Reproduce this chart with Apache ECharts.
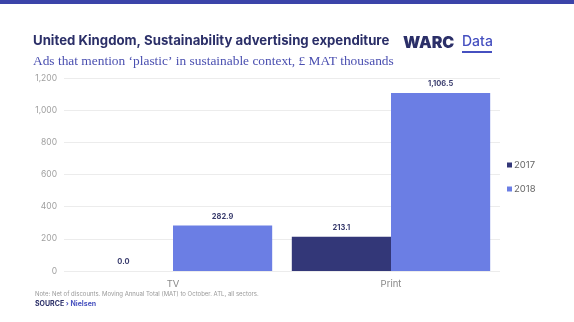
<!DOCTYPE html>
<html><head><meta charset="utf-8">
<script src="https://cdn.jsdelivr.net/npm/echarts@6/dist/echarts.min.js"></script>
<style>html,body{margin:0;padding:0;background:#fff}#c{width:574px;height:322px}</style>
</head><body><div id="c"></div>
<script>
const categories = ['TV', 'Print'];
const seriesNames = ['2017', '2018'];
const values2017 = [0.0, 213.1];
const values2018 = [282.9, 1106.5];
const yTicks = [0, 200, 400, 600, 800, 1000, 1200];

const chart = echarts.init(document.getElementById('c'));
const lbl = {
  show: true, position: 'top', distance: 5,
  color: '#3a3d6e', fontSize: 7.5, fontWeight: 'bold', fontFamily: 'Inter',
  formatter: p => p.value.toLocaleString('en-US', {minimumFractionDigits: 1, maximumFractionDigits: 1})
};
chart.setOption({
  animation: false,
  title: [
    {text: 'United Kingdom, Sustainability advertising expenditure', left: 28, top: 30,
     textStyle: {fontFamily: 'Inter', fontWeight: 'bold', fontSize: 13.2, color: '#2b2f68'}},
    {text: 'Ads that mention ‘plastic’ in sustainable context, £ MAT thousands', left: 28, top: 50,
     textStyle: {fontFamily: 'Liberation Serif', fontWeight: 'normal', fontSize: 13.4, color: '#4a4fb0'}},
    {text: 'Note: Net of discounts. Moving Annual Total (MAT) to October. ATL, all sectors.', left: 30, top: 286,
     textStyle: {fontFamily: 'Inter', fontWeight: 'normal', fontSize: 6, color: '#999'}},
    {text: '{a|SOURCE}{b| › Nielsen}', left: 30, top: 295,
     textStyle: {rich: {a: {fontFamily: 'Inter', fontWeight: 'bold', fontSize: 7, color: '#2b2f68'},
                        b: {fontFamily: 'Inter', fontWeight: 'bold', fontSize: 7, color: '#4a54c0'}}}}
  ],
  graphic: [
    {type: 'rect', left: 0, top: 0, shape: {width: 574, height: 4}, style: {fill: '#3b44a9'}},
    {type: 'text', left: 403, top: 35, style: {text: 'WARC', font: '900 16px Inter', fill: '#2b2f68'}},
    {type: 'text', left: 462, top: 35, style: {text: 'Data', font: '500 14px Inter', fill: '#4650c0'}},
    {type: 'rect', left: 462, top: 51, shape: {width: 30, height: 2}, style: {fill: '#4650c0'}}
  ],
  legend: {
    orient: 'vertical', left: 502, top: 155, itemWidth: 5, itemHeight: 5, itemGap: 14,
    icon: 'rect', textStyle: {fontFamily: 'Inter', fontSize: 9.5, color: '#666', padding: [0, 0, 0, -3]},
    data: seriesNames
  },
  grid: {left: 64, right: 74, top: 78, bottom: 51, containLabel: false},
  xAxis: {
    type: 'category', data: categories,
    axisLine: {show: false}, axisTick: {show: false},
    axisLabel: {color: '#888', fontFamily: 'Inter', fontSize: 9.5, margin: 8}
  },
  yAxis: {
    type: 'value', min: 0, max: 1200, interval: 200,
    axisLine: {show: false}, axisTick: {show: false},
    splitLine: {lineStyle: {color: '#ececec', width: 1}},
    axisLabel: {color: '#a0a0a0', fontFamily: 'Inter', fontSize: 8.5, margin: 7,
      formatter: v => yTicks.includes(v) ? v.toLocaleString('en-US') : ''}
  },
  series: [
    {name: seriesNames[0], type: 'bar', data: values2017, barGap: '0%', barCategoryGap: '9%',
     itemStyle: {color: '#333778'}, label: lbl},
    {name: seriesNames[1], type: 'bar', data: values2018, barGap: '0%', barCategoryGap: '9%',
     itemStyle: {color: '#6b7ee4'}, label: lbl}
  ]
});
</script></body></html>
